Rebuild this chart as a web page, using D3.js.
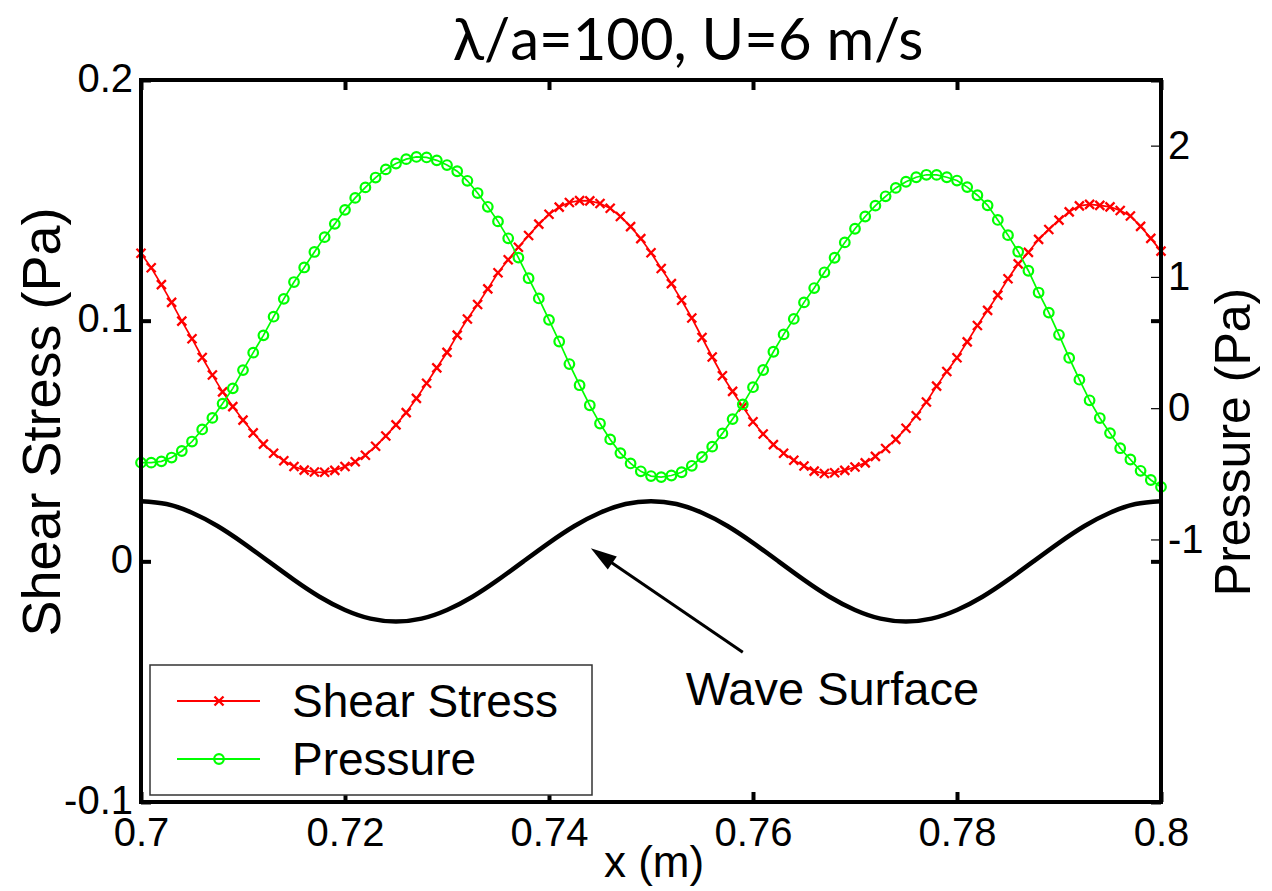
<!DOCTYPE html>
<html><head><meta charset="utf-8">
<script src="https://cdn.jsdelivr.net/npm/d3@7"></script>
<style>body{margin:0;background:#fff} svg{display:block}</style>
</head><body>
<svg id="c" width="1272" height="891"></svg>
<script>
// ---------------- data ----------------
const xValues = [0.700,0.701,0.702,0.703,0.704,0.705,0.706,0.707,0.708,0.709,
0.710,0.711,0.712,0.713,0.714,0.715,0.716,0.717,0.718,0.719,
0.720,0.721,0.722,0.723,0.724,0.725,0.726,0.727,0.728,0.729,
0.730,0.731,0.732,0.733,0.734,0.735,0.736,0.737,0.738,0.739,
0.740,0.741,0.742,0.743,0.744,0.745,0.746,0.747,0.748,0.749,
0.750,0.751,0.752,0.753,0.754,0.755,0.756,0.757,0.758,0.759,
0.760,0.761,0.762,0.763,0.764,0.765,0.766,0.767,0.768,0.769,
0.770,0.771,0.772,0.773,0.774,0.775,0.776,0.777,0.778,0.779,
0.780,0.781,0.782,0.783,0.784,0.785,0.786,0.787,0.788,0.789,
0.790,0.791,0.792,0.793,0.794,0.795,0.796,0.797,0.798,0.799,0.800];

const shearStress = [0.1280,0.1220,0.1150,0.1076,0.0998,0.0925,0.0847,0.0774,0.0704,0.0643,
0.0587,0.0534,0.0487,0.0449,0.0418,0.0394,0.0379,0.0371,0.0370,0.0378,
0.0394,0.0414,0.0441,0.0478,0.0521,0.0567,0.0618,0.0677,0.0740,0.0804,
0.0868,0.0940,0.1007,0.1067,0.1132,0.1199,0.1253,0.1305,0.1354,0.1401,
0.1442,0.1472,0.1491,0.1499,0.1498,0.1487,0.1467,0.1433,0.1391,0.1341,
0.1282,0.1217,0.1154,0.1085,0.1011,0.0930,0.0849,0.0771,0.0706,0.0642,
0.0580,0.0529,0.0485,0.0449,0.0420,0.0396,0.0375,0.0365,0.0368,0.0378,
0.0392,0.0409,0.0436,0.0469,0.0507,0.0553,0.0605,0.0662,0.0728,0.0789,
0.0846,0.0912,0.0980,0.1043,0.1106,0.1174,0.1236,0.1284,0.1338,0.1379,
0.1418,0.1452,0.1477,0.1483,0.1479,0.1473,0.1458,0.1435,0.1392,0.1342,0.1289];

const pressure = [-0.415,-0.415,-0.405,-0.376,-0.326,-0.254,-0.162,-0.074,0.035,0.151,
0.290,0.423,0.555,0.697,0.833,0.961,1.072,1.190,1.303,1.404,
1.511,1.602,1.682,1.757,1.819,1.864,1.897,1.914,1.910,1.888,
1.852,1.805,1.732,1.639,1.534,1.423,1.294,1.147,0.990,0.836,
0.673,0.508,0.336,0.175,0.022,-0.117,-0.238,-0.342,-0.421,-0.481,
-0.517,-0.525,-0.513,-0.488,-0.439,-0.372,-0.293,-0.192,-0.083,0.029,
0.160,0.291,0.430,0.562,0.680,0.806,0.915,1.035,1.146,1.263,
1.367,1.460,1.543,1.614,1.678,1.725,1.759,1.778,1.777,1.759,
1.734,1.684,1.622,1.545,1.434,1.318,1.192,1.047,0.881,0.728,
0.559,0.383,0.217,0.060,-0.075,-0.190,-0.305,-0.391,-0.477,-0.547,-0.600];

const waveX = [0.7000,0.7025,0.7050,0.7075,0.7100,0.7125,0.7150,0.7175,0.7200,0.7225,
0.7250,0.7275,0.7300,0.7325,0.7350,0.7375,0.7400,0.7425,0.7450,0.7475,
0.7500,0.7525,0.7550,0.7575,0.7600,0.7625,0.7650,0.7675,0.7700,0.7725,
0.7750,0.7775,0.7800,0.7825,0.7850,0.7875,0.7900,0.7925,0.7950,0.7975,0.8000];
const waveSurface = [0.0250,0.0238,0.0202,0.0147,0.0077,0.0000,-0.0077,-0.0147,-0.0202,-0.0238,
-0.0250,-0.0238,-0.0202,-0.0147,-0.0077,0.0000,0.0077,0.0147,0.0202,0.0238,
0.0250,0.0238,0.0202,0.0147,0.0077,0.0000,-0.0077,-0.0147,-0.0202,-0.0238,
-0.0250,-0.0238,-0.0202,-0.0147,-0.0077,0.0000,0.0077,0.0147,0.0202,0.0238,0.0250];

const xTicks = [0.7, 0.72, 0.74, 0.76, 0.78, 0.8];
const shearTicks = [-0.1, 0, 0.1, 0.2];
const pressureTicks = [-1, 0, 1, 2];
const seriesNames = ["Shear Stress", "Pressure"];
const titleText = "λ/a=100, U=6 m/s";
const xLabel = "x (m)";
const leftLabel = "Shear Stress (Pa)";
const rightLabel = "Pressure (Pa)";
const annotationText = "Wave Surface";
const arrowTip = [0.7441, 0.0054];
const arrowTail = [0.7590, -0.0378];
const annotationPos = [0.7534, -0.0598];

// ---------------- drawing ----------------
const svg = d3.select("#c");
svg.append("rect").attr("width",1272).attr("height",891).attr("fill","#fff");
const L = 141, R = 1161, T = 80, B = 802;
const FONT = "'Liberation Sans', Arial, Helvetica, sans-serif";

const x = d3.scaleLinear().domain([0.7, 0.8]).range([L, R]);
const yL = d3.scaleLinear().domain([-0.1, 0.2]).range([B, T]);
const yR = d3.scaleLinear().domain([-3, 2.5]).range([B, T]);
const fmt = d => String(d);

function styleAxis(g, w, fs) {
  g.select(".domain").remove();
  g.attr("font-family", FONT).attr("font-size", fs);
  g.selectAll(".tick line").attr("stroke", "#000").attr("stroke-width", w);
  g.selectAll(".tick text").attr("fill", "#000");
}

// bottom x axis
svg.append("g").attr("transform", `translate(0,${B})`)
  .call(d3.axisBottom(x).tickValues(xTicks).tickSize(-10).tickSizeOuter(0).tickPadding(16).tickFormat(fmt))
  .call(g => styleAxis(g, 4, 40));
// top mirrored
svg.append("g").attr("transform", `translate(0,${T})`)
  .call(d3.axisTop(x).tickValues(xTicks).tickSize(-10).tickSizeOuter(0).tickFormat(""))
  .call(g => styleAxis(g, 4, 40));
// left axis
svg.append("g").attr("transform", `translate(${L},0)`)
  .call(d3.axisLeft(yL).tickValues(shearTicks).tickSize(-10).tickSizeOuter(0).tickPadding(8).tickFormat(fmt))
  .call(g => styleAxis(g, 4, 40))
  .call(g => g.selectAll(".tick text").attr("dy", "0.28em"));
// right mirrored shear ticks
svg.append("g").attr("transform", `translate(${R},0)`)
  .call(d3.axisRight(yL).tickValues(shearTicks).tickSize(-10).tickSizeOuter(0).tickFormat(""))
  .call(g => styleAxis(g, 4, 40));
// right pressure axis
svg.append("g").attr("transform", `translate(${R},0)`)
  .call(d3.axisRight(yR).tickValues(pressureTicks).tickSize(-10).tickSizeOuter(0).tickPadding(7).tickFormat(fmt))
  .call(g => styleAxis(g, 1.2, 40));

// wave surface
svg.append("path")
  .attr("d", d3.line().x((d,i)=>x(waveX[i])).y(d=>yL(d)).curve(d3.curveNatural)(waveSurface))
  .attr("fill","none").attr("stroke","#000").attr("stroke-width",4.5);

// shear stress
const red = "#ff0000", green = "#00ff00";
svg.append("path")
  .attr("d", d3.line().x((d,i)=>x(xValues[i])).y(d=>yL(d))(shearStress))
  .attr("fill","none").attr("stroke",red).attr("stroke-width",1.7);
const crossPath = "M-4.5,-4.5L4.5,4.5M-4.5,4.5L4.5,-4.5";
svg.append("g").selectAll("path").data(shearStress).join("path")
  .attr("transform",(d,i)=>`translate(${x(xValues[i])},${yL(d)})`)
  .attr("d", crossPath).attr("stroke", red).attr("stroke-width", 2.3).attr("fill","none");

// pressure
svg.append("path")
  .attr("d", d3.line().x((d,i)=>x(xValues[i])).y(d=>yR(d))(pressure))
  .attr("fill","none").attr("stroke",green).attr("stroke-width",1.7);
svg.append("g").selectAll("circle").data(pressure).join("circle")
  .attr("cx",(d,i)=>x(xValues[i])).attr("cy",d=>yR(d)).attr("r",4.8)
  .attr("stroke",green).attr("stroke-width",2.2).attr("fill","none");

// plot box
svg.append("rect").attr("x",L).attr("y",T).attr("width",R-L).attr("height",B-T)
  .attr("fill","none").attr("stroke","#000").attr("stroke-width",4);

// legend
const lg = svg.append("g");
lg.append("rect").attr("x",150).attr("y",665).attr("width",442).attr("height",130)
  .attr("fill","#fff").attr("stroke","#333").attr("stroke-width",1.5);
const legY = [701, 759];
[red, green].forEach((c, k) => {
  lg.append("line").attr("x1",177).attr("x2",260).attr("y1",legY[k]).attr("y2",legY[k])
    .attr("stroke",c).attr("stroke-width",2.2);
  if (k === 0) lg.append("path").attr("transform",`translate(219,${legY[k]})`).attr("d",crossPath)
    .attr("stroke",c).attr("stroke-width",2.4).attr("fill","none");
  else lg.append("circle").attr("cx",219).attr("cy",legY[k]).attr("r",4.8)
    .attr("stroke",c).attr("stroke-width",2.2).attr("fill","none");
  lg.append("text").attr("x",292).attr("y",legY[k]+16).text(seriesNames[k])
    .attr("font-family",FONT).attr("font-size",46).attr("fill","#000");
});

// annotation + arrow
svg.append("text").attr("x",x(annotationPos[0])).attr("y",yL(annotationPos[1]))
  .text(annotationText).attr("font-family",FONT).attr("font-size",47).attr("fill","#000");
{
  const tx = x(arrowTip[0]), ty = yL(arrowTip[1]);
  const sx = x(arrowTail[0]), sy = yL(arrowTail[1]);
  const dx = tx - sx, dy = ty - sy, len = Math.hypot(dx, dy);
  const ux = dx/len, uy = dy/len, hl = 26, hw = 8;
  const bx = tx - ux*hl, by = ty - uy*hl;
  svg.append("line").attr("x1",sx).attr("y1",sy).attr("x2",bx+ux*2).attr("y2",by+uy*2)
    .attr("stroke","#000").attr("stroke-width",3);
  svg.append("path").attr("d",`M${tx},${ty}L${bx - uy*hw},${by + ux*hw}L${bx + uy*hw},${by - ux*hw}Z`)
    .attr("fill","#000");
}

// axis labels
svg.append("text").attr("transform","translate(60,422) rotate(-90)").attr("text-anchor","middle")
  .text(leftLabel).attr("font-family",FONT).attr("font-size",54).attr("fill","#000");
svg.append("text").attr("transform","translate(1250,442) rotate(-90)").attr("text-anchor","middle")
  .text(rightLabel).attr("font-family",FONT).attr("font-size",50).attr("fill","#000");
svg.append("text").attr("x",654).attr("y",877).attr("text-anchor","middle")
  .text(xLabel).attr("font-family",FONT).attr("font-size",44).attr("fill","#000");

// title
svg.append("text").attr("x",688).attr("y",60).attr("text-anchor","middle")
  .text(titleText).attr("font-family","Lato, 'Open Sans', sans-serif").attr("font-size",58).attr("fill","#000");
</script>
</body></html>
